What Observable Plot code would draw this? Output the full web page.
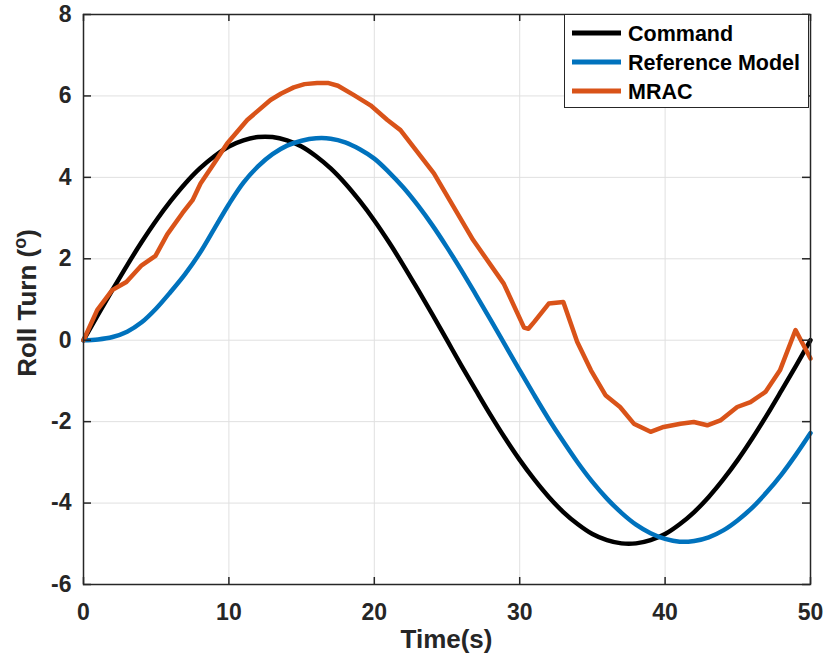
<!DOCTYPE html>
<html>
<head>
<meta charset="utf-8">
<script src="https://cdn.jsdelivr.net/npm/d3@7"></script>
<script src="https://cdn.jsdelivr.net/npm/@observablehq/plot@0.6"></script>
<style>
  html, body { margin: 0; padding: 0; background: #fff; }
  #chart { position: relative; width: 824px; height: 664px; }
</style>
</head>
<body>
<div id="chart"></div>
<script>
// ---- data ----
const time = [0,1,2,3,4,5,6,7,8,9,10,11,12,13,14,15,16,17,18,19,20,21,22,23,24,25,26,27,28,29,30,31,32,33,34,35,36,37,38,39,40,41,42,43,44,45,46,47,48,49,50];
const command = [0,0.63,1.24,1.84,2.41,2.94,3.42,3.85,4.22,4.52,4.76,4.91,4.99,4.99,4.91,4.76,4.52,4.22,3.85,3.42,2.94,2.41,1.84,1.24,0.63,0,-0.63,-1.24,-1.84,-2.41,-2.94,-3.42,-3.85,-4.22,-4.52,-4.76,-4.91,-4.99,-4.99,-4.91,-4.76,-4.52,-4.22,-3.85,-3.42,-2.94,-2.41,-1.84,-1.24,-0.63,0];
const referenceModel = [0,0.02,0.08,0.21,0.44,0.78,1.19,1.63,2.14,2.74,3.34,3.87,4.27,4.57,4.78,4.9,4.96,4.95,4.86,4.69,4.46,4.13,3.75,3.31,2.82,2.28,1.71,1.11,0.50,-0.12,-0.74,-1.35,-1.94,-2.49,-3.01,-3.48,-3.89,-4.24,-4.53,-4.74,-4.88,-4.95,-4.93,-4.84,-4.67,-4.42,-4.11,-3.73,-3.30,-2.81,-2.28];
const mracTime = [0,0.94,1.97,2.95,4.0,4.95,5.76,6.8,7.5,8.05,9.0,9.88,11.26,12.86,13.6,14.46,15.2,16.07,16.8,17.5,18.6,19.74,20.9,21.8,24.1,26.8,28.9,30.3,30.6,31.0,32.0,33.0,33.95,34.9,35.9,36.9,37.85,39.0,39.9,41.06,41.97,42.9,43.8,44.96,45.87,46.9,47.9,48.97,50];
const mracRoll = [0,0.74,1.23,1.43,1.84,2.07,2.6,3.12,3.44,3.85,4.35,4.83,5.41,5.90,6.06,6.21,6.29,6.32,6.32,6.25,6.02,5.77,5.41,5.16,4.10,2.46,1.39,0.31,0.28,0.45,0.90,0.94,-0.04,-0.74,-1.35,-1.64,-2.05,-2.25,-2.13,-2.05,-2.01,-2.09,-1.97,-1.64,-1.52,-1.27,-0.74,0.25,-0.45];
const seriesNames = ["Command", "Reference Model", "MRAC"];
const seriesColors = ["#000000", "#0072BD", "#D95319"];
const xTicks = [0,10,20,30,40,50];
const yTicks = [-6,-4,-2,0,2,4,6,8];
const xLabel = "Time(s)";
const yLabel = "Roll Turn (";

const cmdData = time.map((t, i) => ({t, v: command[i]}));
const refData = time.map((t, i) => ({t, v: referenceModel[i]}));
const mracData = mracTime.map((t, i) => ({t, v: mracRoll[i]}));

const W = 824, H = 664, mL = 83, mR = 14, mT = 14, mB = 80;
const axisColor = "#262626";
const gridColor = "#e0e0e0";
const FONT = "'Liberation Sans', Arial, sans-serif";

const chart = Plot.plot({
  width: W, height: H,
  marginLeft: mL, marginRight: mR, marginTop: mT, marginBottom: mB,
  style: {fontFamily: FONT, fontSize: "23px", fontWeight: "bold", color: axisColor, background: "white"},
  x: {domain: [0, 50], ticks: xTicks, tickSize: 0, tickPadding: 19, label: null, tickFormat: d => String(d)},
  y: {domain: [-6, 8], ticks: yTicks, tickSize: 0, tickPadding: 12, label: null, tickFormat: d => String(d)},
  marks: [
    Plot.ruleX(xTicks, {x: d => d, stroke: gridColor, strokeWidth: 1}),
    Plot.ruleY(yTicks, {y: d => d, stroke: gridColor, strokeWidth: 1}),
    Plot.line(cmdData, {x: "t", y: "v", stroke: seriesColors[0], strokeWidth: 4.5, curve: "catmull-rom"}),
    Plot.line(refData, {x: "t", y: "v", stroke: seriesColors[1], strokeWidth: 4.5, curve: "catmull-rom"}),
    Plot.line(mracData, {x: "t", y: "v", stroke: seriesColors[2], strokeWidth: 4.5, strokeLinejoin: "round"}),
    // inward ticks (bottom, top, left, right)
    Plot.ruleX(xTicks, {x: d => d, stroke: axisColor, strokeWidth: 1.5, insetTop: H - mT - mB - 7}),
    Plot.ruleX(xTicks, {x: d => d, stroke: axisColor, strokeWidth: 1.5, insetBottom: H - mT - mB - 7}),
    Plot.ruleY(yTicks, {y: d => d, stroke: axisColor, strokeWidth: 1.5, insetRight: W - mL - mR - 8}),
    Plot.ruleY(yTicks, {y: d => d, stroke: axisColor, strokeWidth: 1.5, insetLeft: W - mL - mR - 8}),
    Plot.frame({stroke: axisColor, strokeWidth: 1.5})
  ]
});
document.getElementById("chart").appendChild(chart);

const svg = d3.select(chart);
svg.selectAll("g[aria-label='x-axis tick label'] text, g[aria-label='y-axis tick label'] text").attr("fill", axisColor);

// axis labels
svg.append("text")
  .attr("x", (mL + W - mR) / 2).attr("y", 648)
  .attr("text-anchor", "middle")
  .attr("font-size", 26).attr("font-weight", "bold").attr("fill", axisColor)
  .attr("font-family", FONT)
  .text(xLabel);

const yl = svg.append("text")
  .attr("transform", "translate(36,303) rotate(-90)")
  .attr("text-anchor", "middle")
  .attr("font-size", 26).attr("font-weight", "bold").attr("fill", axisColor)
  .attr("font-family", FONT);
yl.append("tspan").text(yLabel);
yl.append("tspan").attr("font-size", 18).attr("dy", -10).text("o");
yl.append("tspan").attr("dy", 10).text(")");

// legend
const lg = svg.append("g").attr("font-family", FONT).attr("text-anchor", "start");
lg.append("rect").attr("x", 564.5).attr("y", 14.5).attr("width", 244).attr("height", 93)
  .attr("fill", "white").attr("stroke", axisColor).attr("stroke-width", 1);
const rowsY = [33, 62, 91];
seriesNames.forEach((name, i) => {
  lg.append("line").attr("x1", 572).attr("x2", 621).attr("y1", rowsY[i]).attr("y2", rowsY[i])
    .attr("stroke", seriesColors[i]).attr("stroke-width", 5);
  lg.append("text").attr("x", 628).attr("y", rowsY[i]).attr("dy", "0.35em")
    .attr("text-anchor", "start")
    .attr("font-size", 21.5).attr("font-weight", "bold").attr("fill", "#000").text(name);
});
</script>
</body>
</html>
